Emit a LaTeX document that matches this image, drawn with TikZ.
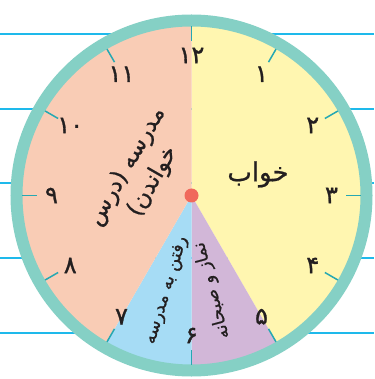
\documentclass[tikz,border=0pt]{standalone}
\usepackage{fontspec}
\newfontfamily\arabicfont[Script=Arabic,FakeBold=0.8]{DejaVu Sans}
\newfontfamily\digitfont[Script=Arabic,FakeBold=1.2]{DejaVu Sans}
\TeXXeTstate=1
\definecolor{ringc}{RGB}{133,208,197}
\definecolor{tickc}{RGB}{38,168,178}
\definecolor{linec}{RGB}{30,185,235}
\definecolor{salmon}{RGB}{249,204,181}
\definecolor{yell}{RGB}{255,246,176}
\definecolor{purp}{RGB}{210,183,216}
\definecolor{skyb}{RGB}{166,220,245}
\definecolor{dotc}{RGB}{240,105,92}
\definecolor{txt}{RGB}{35,31,32}
\tikzset{
  bgline/.style={linec, line width=2pt},
  hourtick/.style={tickc, line width=1.5pt},
  hournum/.style={txt, inner sep=0pt, font=\digitfont\fontsize{24}{24}\selectfont},
  label/.style={txt, inner sep=0pt, align=center},
}
\begin{document}
\begin{tikzpicture}[x=1pt,y=1pt]
\useasboundingbox (-191.5,-183.5) rectangle (182.5,195.5);
% background ruled lines
\foreach \yy in {161,86.5,12,-62.5,-137}
  \draw[bgline] (-191.5,\yy) -- (182.5,\yy);
% sectors
\fill[yell] (0,0) -- (90:175) arc[start angle=90,end angle=-60,radius=175] -- cycle;
\fill[purp] (0,0) -- (-60:175) arc[start angle=-60,end angle=-90,radius=175] -- cycle;
\fill[skyb] (0,0) -- (-90:175) arc[start angle=-90,end angle=-120,radius=175] -- cycle;
\fill[salmon] (0,0) -- (240:175) arc[start angle=240,end angle=90,radius=175] -- cycle;
% ring
\draw[ringc, line width=12pt] (0,0) circle[radius=175];
% ticks
\foreach \h in {1,...,12}
  \draw[hourtick] (90-30*\h:169) -- (90-30*\h:154);
% numbers
\foreach \h/\d in {1/۱,2/۲,3/۳,4/۴,5/۵,6/۶,7/۷,8/۸,9/۹,10/۱۰,11/۱۱,12/۱۲}
  \node[hournum] (n\h) at (90-30*\h:140) {\d};
% centre dot
\node[circle, fill=dotc, minimum size=14pt, inner sep=0pt] (c) at (0,0) {};
% labels
\node[label, rotate=60, font=\arabicfont\fontsize{23}{30}\selectfont] (school) at (-51.5,21.5)
  {\beginR مدرسه (درس\endR\\\beginR خواندن)\endR};
\node[label, font=\arabicfont\fontsize{26}{30}\selectfont] (sleep) at (66.5,21) {\beginR خواب\endR};
\node[label, rotate=73, font=\arabicfont\fontsize{17.5}{20}\selectfont] (go) at (-24.5,-95) {\beginR رفتن به مدرسه\endR};
\node[label, rotate=105, font=\arabicfont\fontsize{17.5}{20}\selectfont] (eat) at (20.5,-95) {\beginR نماز و صبحانه\endR};
\end{tikzpicture}
\end{document}
